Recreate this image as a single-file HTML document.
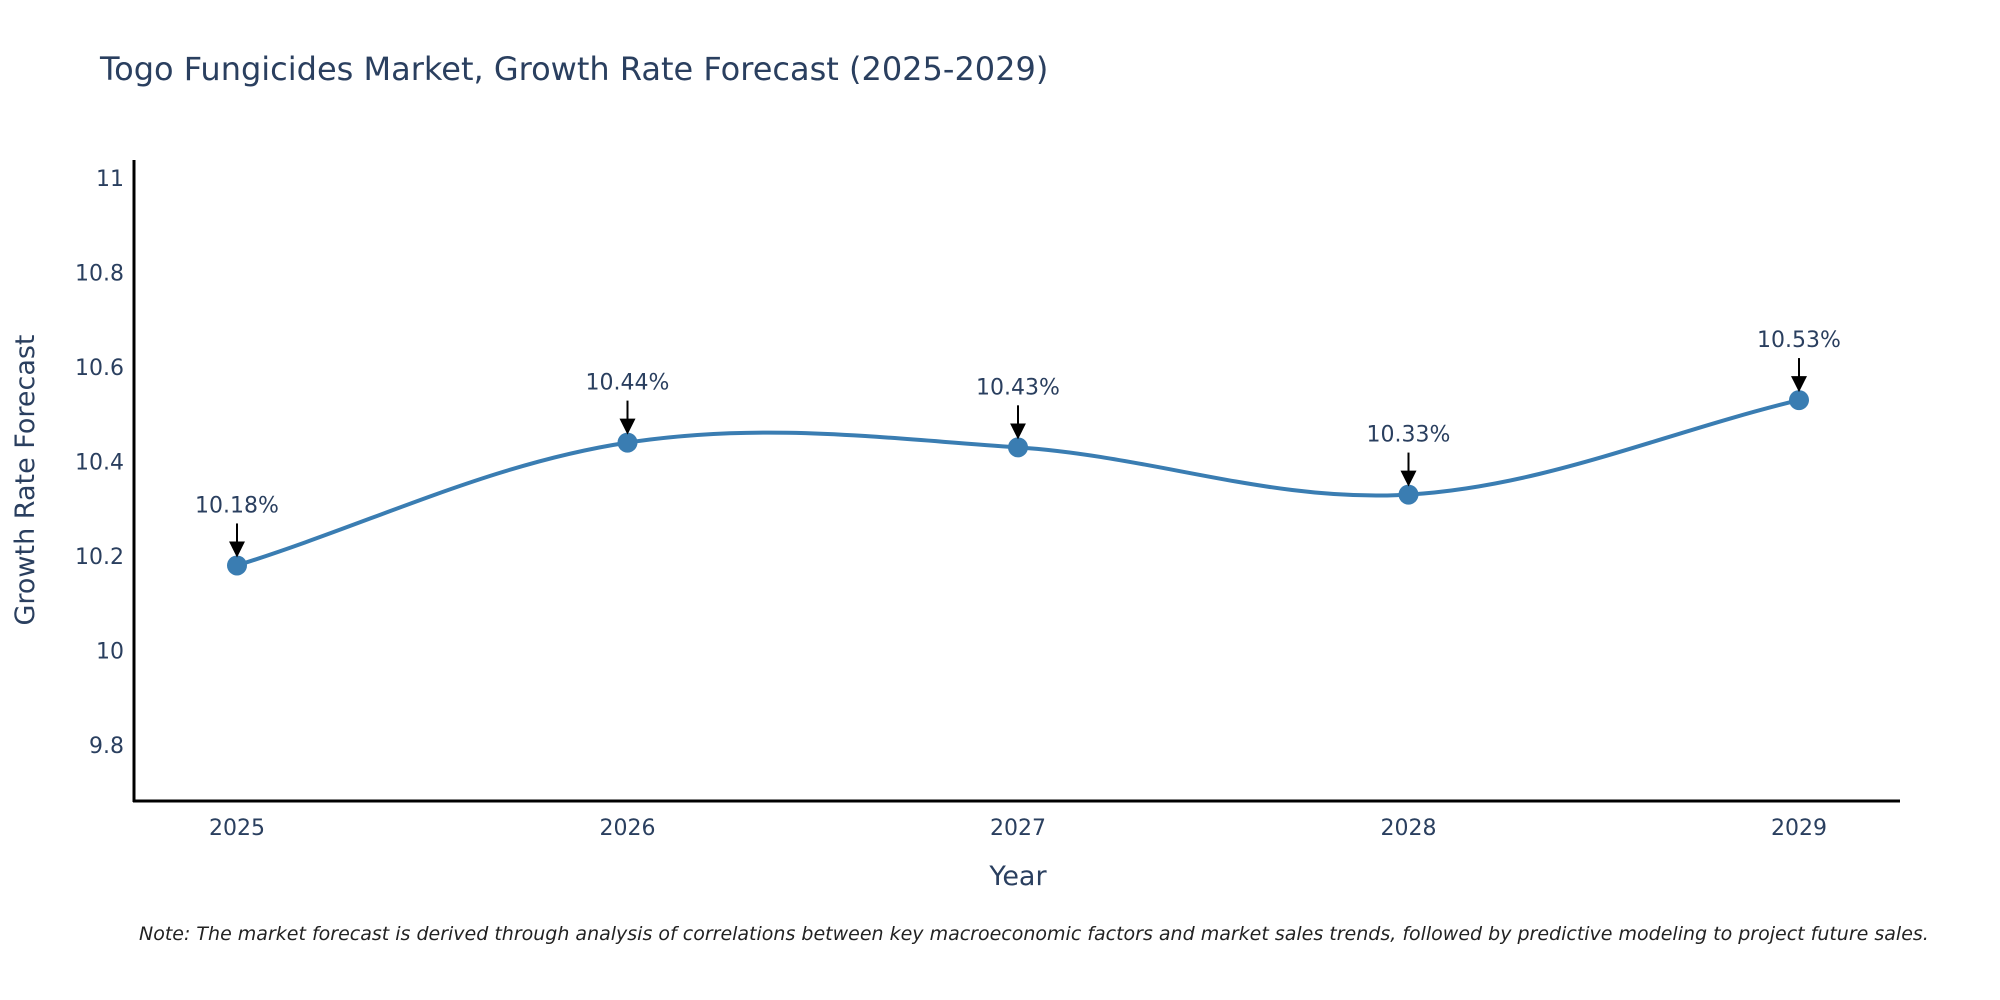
<!DOCTYPE html>
<html><head><meta charset="utf-8"><style>
body{margin:0;background:#fff;overflow:hidden;}
svg{display:block;font-family:"DejaVu Sans","Liberation Sans",sans-serif;}
</style></head><body>
<svg width="2000" height="1000" viewBox="0 0 2000 1000">
<defs><marker id="ah" markerWidth="8" markerHeight="8" refX="5" refY="4" orient="auto" markerUnits="strokeWidth"><path d="M0,0 L8,4 L0,8 z" fill="#000"/></marker></defs>
<text x="100" y="80" font-size="32" fill="#2a3f5f">Togo Fungicides Market, Growth Rate Forecast (2025-2029)</text>
<g id="yticks"></g><g id="xticks"></g>
<line x1="134" y1="160" x2="134" y2="802" stroke="#000" stroke-width="3"/>
<line x1="133" y1="801" x2="1900" y2="801" stroke="#000" stroke-width="3"/>
<text transform="translate(34,480) rotate(-90)" text-anchor="middle" font-size="27" fill="#2a3f5f">Growth Rate Forecast</text>
<text x="1018" y="885" text-anchor="middle" font-size="27" fill="#2a3f5f">Year</text>
<path id="line" fill="none" stroke="#3a7db2" stroke-width="4"/>
<g id="pts"></g>
<text x="139" y="940" font-size="19" font-style="italic" fill="#222">Note: The market forecast is derived through analysis of correlations between key macroeconomic factors and market sales trends, followed by predictive modeling to project future sales.</text>
</svg>
<script>
const years=[2025,2026,2027,2028,2029];
const values=[10.18,10.44,10.43,10.33,10.53];
const labels=["10.18%","10.44%","10.43%","10.33%","10.53%"];
const yTicks=[9.8,10,10.2,10.4,10.6,10.8,11];
const NS="http://www.w3.org/2000/svg";
const xs=y=>237+(y-2025)*390.5;
const ys=v=>178+(11-v)*472.5;
const yt=document.getElementById('yticks');
yTicks.forEach(t=>{const e=document.createElementNS(NS,'text');


e.setAttribute('x',124);e.setAttribute('y',ys(t)+8);e.setAttribute('text-anchor','end');e.setAttribute('font-size','22');e.setAttribute('fill','#2a3f5f');e.textContent=String(t);yt.appendChild(e);});
const xt=document.getElementById('xticks');
years.forEach(t=>{const e=document.createElementNS(NS,'text');


e.setAttribute('x',xs(t));e.setAttribute('y',835);e.setAttribute('text-anchor','middle');e.setAttribute('font-size','22');e.setAttribute('fill','#2a3f5f');e.textContent=String(t);xt.appendChild(e);});
const P=years.map((y,i)=>[xs(y),ys(values[i])]);
let d=`M${P[0][0]},${P[0][1]}`;const s=0.35;
for(let i=0;i<P.length-1;i++){const p0=P[i-1]||P[i],p1=P[i],p2=P[i+1],p3=P[i+2]||P[i+1];
const k1=(i==0?1:2),k2=(i==P.length-2?1:2);
const c1=[p1[0]+(p2[0]-p0[0])*s/k1,p1[1]+(p2[1]-p0[1])*s/k1];
const c2=[p2[0]-(p3[0]-p1[0])*s/k2,p2[1]-(p3[1]-p1[1])*s/k2];
d+=` C${c1[0]},${c1[1]} ${c2[0]},${c2[1]} ${p2[0]},${p2[1]}`;}
document.getElementById('line').setAttribute('d',d);
const g=document.getElementById('pts');
P.forEach((p,i)=>{
const c=document.createElementNS(NS,'circle');


c.setAttribute('cx',p[0]);c.setAttribute('cy',p[1]);c.setAttribute('r',10);c.setAttribute('fill','#3a7db2');g.appendChild(c);
const a=document.createElementNS(NS,'line');


a.setAttribute('x1',p[0]);a.setAttribute('y1',p[1]-42);a.setAttribute('x2',p[0]);a.setAttribute('y2',p[1]-14);a.setAttribute('stroke','#000');a.setAttribute('stroke-width','2');a.setAttribute('marker-end','url(#ah)');g.appendChild(a);
const t=document.createElementNS(NS,'text');


t.setAttribute('x',p[0]);t.setAttribute('y',p[1]-53);t.setAttribute('text-anchor','middle');t.setAttribute('font-size','22');t.setAttribute('fill','#2a3f5f');t.textContent=labels[i];g.appendChild(t);});
</script>
</body></html>
